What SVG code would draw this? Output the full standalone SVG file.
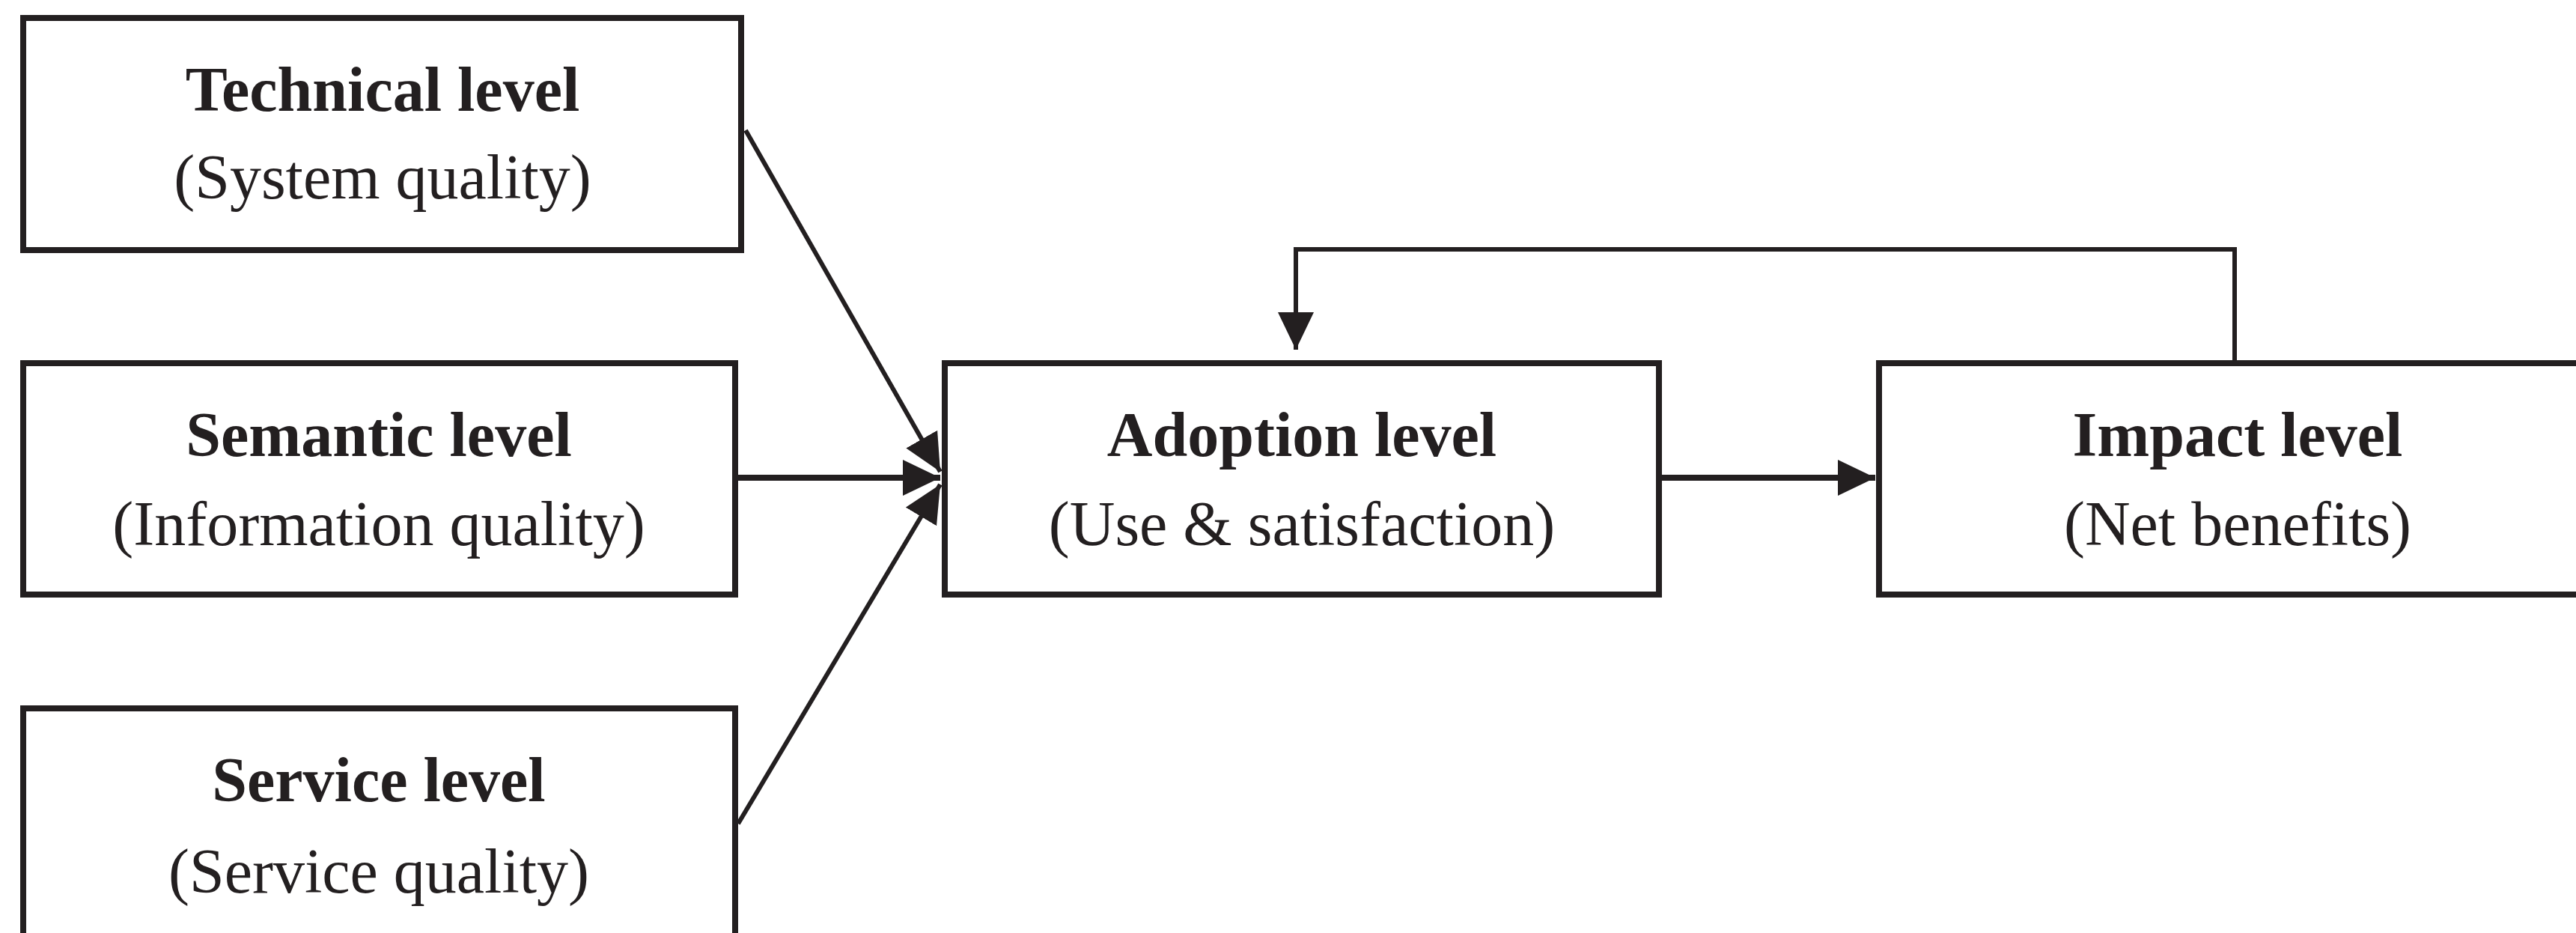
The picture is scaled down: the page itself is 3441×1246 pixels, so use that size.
<svg xmlns="http://www.w3.org/2000/svg" width="3441" height="1246" viewBox="0 0 3441 1246">
<style>
.box{fill:#ffffff;stroke:#231f20;stroke-width:8}
.t{font-family:"Liberation Serif","Times New Roman",serif;font-size:84px;fill:#231f20;text-anchor:middle}
.b{font-weight:bold}
.c{fill:none;stroke:#231f20;stroke-width:6}
</style>
<defs>
<marker id="ah" markerUnits="userSpaceOnUse" markerWidth="52" markerHeight="50" refX="50" refY="24" orient="auto">
<path d="M0,0 L50,24 L0,48 Z" fill="#231f20"/>
</marker>
</defs>
<rect width="3441" height="1246" fill="#ffffff"/>
<g id="connectors">
<line class="c" x1="996" y1="174" x2="1256" y2="630" marker-end="url(#ah)"/>
<line class="c" x1="982" y1="638" x2="1256" y2="638" marker-end="url(#ah)" style="stroke-width:8"/>
<line class="c" x1="986" y1="1100" x2="1256" y2="647" marker-end="url(#ah)"/>
<line class="c" x1="2216" y1="638" x2="2505" y2="638" marker-end="url(#ah)" style="stroke-width:8"/>
<polyline class="c" points="2985,483 2985,333 1731,333 1731,467" marker-end="url(#ah)"/>
</g>
<g id="technical">
<rect class="box" x="31" y="24" width="959" height="310"/>
<text class="t b" x="511" y="148">Technical level</text>
<text class="t" x="511" y="265">(System quality)</text>
</g>
<g id="semantic">
<rect class="box" x="31" y="485" width="951" height="309"/>
<text class="t b" x="506" y="609">Semantic level</text>
<text class="t" x="506" y="728">(Information quality)</text>
</g>
<g id="service">
<rect class="box" x="31" y="946" width="951" height="309"/>
<text class="t b" x="506" y="1070">Service level</text>
<text class="t" x="506" y="1192">(Service quality)</text>
</g>
<g id="adoption">
<rect class="box" x="1262" y="485" width="954" height="309"/>
<text class="t b" x="1739" y="609">Adoption level</text>
<text class="t" x="1739" y="728">(Use &amp; satisfaction)</text>
</g>
<g id="impact">
<rect class="box" x="2510" y="485" width="954" height="309"/>
<text class="t b" x="2989" y="609">Impact level</text>
<text class="t" x="2989" y="728">(Net benefits)</text>
</g>
</svg>
